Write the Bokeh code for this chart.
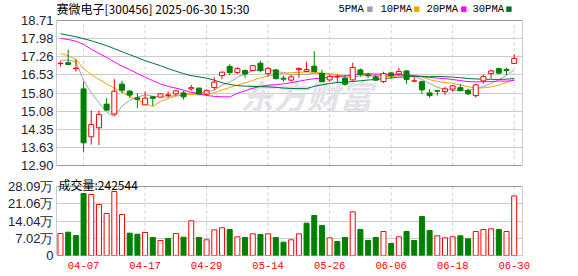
from bokeh.plotting import figure
from bokeh.layouts import column
from bokeh.models import (Range1d, FixedTicker, NumeralTickFormatter,
                          CustomJSTickFormatter, Label, ColumnDataSource)
from bokeh.embed import file_html
from bokeh.resources import INLINE

# ---------------- data ----------------
dates = ["04-01", "04-02", "04-03", "04-07", "04-08", "04-09", "04-10", "04-11",
         "04-14", "04-15", "04-16", "04-17", "04-18", "04-21", "04-22", "04-23",
         "04-24", "04-25", "04-28", "04-29", "04-30", "05-06", "05-07", "05-08",
         "05-09", "05-12", "05-13", "05-14", "05-15", "05-16", "05-19", "05-20",
         "05-21", "05-22", "05-23", "05-26", "05-27", "05-28", "05-29", "05-30",
         "06-03", "06-04", "06-05", "06-06", "06-09", "06-10", "06-11", "06-12",
         "06-13", "06-16", "06-17", "06-18", "06-19", "06-20", "06-23", "06-24",
         "06-25", "06-26", "06-27", "06-30"]

opens = [16.98, 17.02, 16.78, 15.97, 14.05, 14.41, 15.36, 14.96, 16.16, 15.88,
         15.61, 15.33, 15.65, 15.64, 15.71, 15.77, 15.81, 15.97, 16.00, 15.76,
         16.02, 16.50, 16.87, 16.63, 16.71, 16.71, 17.00, 16.58, 16.73, 16.40,
         16.32, 16.74, 16.67, 16.88, 16.59, 16.33, 16.45, 16.39, 16.33, 16.73,
         16.53, 16.45, 16.26, 16.61, 16.57, 16.69, 16.28, 16.26, 15.81, 15.90,
         15.86, 15.96, 16.02, 15.90, 15.70, 16.29, 16.58, 16.78, 16.75, 16.99]
highs = [17.08, 17.55, 17.16, 16.26, 15.10, 15.10, 15.60, 16.36, 16.29, 15.93,
         15.80, 15.86, 15.67, 15.80, 15.86, 15.93, 15.89, 16.13, 16.02, 15.96,
         16.44, 16.66, 16.96, 16.84, 16.74, 16.92, 17.10, 16.84, 16.76, 16.50,
         16.53, 16.83, 17.06, 17.48, 16.73, 16.55, 16.55, 16.53, 17.02, 16.79,
         16.62, 16.53, 16.66, 16.64, 16.81, 16.73, 16.45, 16.30, 15.96, 15.93,
         16.06, 16.12, 16.16, 15.98, 16.18, 16.53, 16.73, 16.82, 16.82, 17.36]
lows = [16.86, 16.94, 16.66, 13.45, 13.74, 13.72, 15.10, 14.91, 15.80, 15.60,
        15.20, 15.32, 15.29, 15.63, 15.62, 15.70, 15.54, 15.89, 15.73, 15.70,
        15.93, 16.36, 16.53, 16.57, 16.42, 16.68, 16.63, 16.46, 16.35, 16.26,
        16.26, 16.42, 16.66, 16.64, 16.25, 16.26, 16.24, 16.09, 16.30, 16.46,
        16.39, 16.30, 16.20, 16.39, 16.50, 16.16, 16.27, 15.77, 15.62, 15.70,
        15.73, 15.86, 15.86, 15.72, 15.62, 16.18, 16.39, 16.57, 16.53, 16.98]
closes = [17.00, 16.95, 16.80, 13.81, 14.54, 14.94, 15.12, 15.88, 15.92, 15.72,
          15.55, 15.60, 15.59, 15.77, 15.73, 15.89, 15.65, 16.02, 15.77, 15.90,
          16.24, 16.64, 16.62, 16.78, 16.57, 16.90, 16.70, 16.79, 16.38, 16.36,
          16.45, 16.79, 16.74, 16.66, 16.26, 16.47, 16.46, 16.16, 16.83, 16.55,
          16.50, 16.32, 16.58, 16.50, 16.67, 16.35, 16.29, 15.93, 15.70, 15.88,
          15.97, 16.09, 15.90, 15.77, 16.13, 16.46, 16.69, 16.60, 16.70, 17.19]
# volume in 万 shares
volumes = [8.95, 9.49, 8.14, 25.24, 24.83, 20.76, 17.10, 26.05, 16.69, 9.08,
           8.67, 9.36, 7.33, 6.11, 6.92, 8.95, 7.46, 14.11, 7.33, 6.39,
           10.45, 11.27, 10.58, 7.60, 7.33, 8.82, 8.55, 8.82, 7.33, 5.43,
           6.39, 8.82, 13.16, 16.28, 12.21, 7.19, 5.70, 7.33, 17.78, 10.58,
           6.11, 7.33, 9.77, 4.89, 7.60, 9.77, 6.11, 15.88, 10.18, 8.01,
           7.19, 7.60, 8.01, 6.79, 9.77, 10.58, 10.85, 10.58, 9.77, 24.2544]

# moving-average values before a full window exists
ma5_head = [17.12, 17.12, 17.07, 16.30]
ma10_head = [17.39, 17.30, 17.15, 16.78, 16.55, 16.35, 16.17, 16.00, 15.85]
ma20_head = [17.99, 17.95, 17.88, 17.75, 17.56, 17.39, 17.23, 17.05, 16.88, 16.74,
             16.59, 16.44, 16.30, 16.17, 16.07, 16.00, 15.92, 15.83, 15.76]
ma30_head = [18.18, 18.12, 18.06, 17.98, 17.90, 17.80, 17.70, 17.58, 17.46, 17.34,
             17.22, 17.10, 17.00, 16.90, 16.78, 16.68, 16.58, 16.50, 16.45, 16.40,
             16.32, 16.22, 16.15, 16.10, 16.08, 16.07, 16.06, 16.05, 16.03]

price_ticks = [12.90, 13.63, 14.35, 15.08, 15.80, 16.53, 17.26, 17.98, 18.71]
vol_ticks = [0, 7.02, 14.04, 21.06, 28.09]
tick_dates = ["04-07", "04-17", "04-29", "05-14", "05-26", "06-06", "06-18", "06-30"]

title_text = "赛微电子[300456] 2025-06-30 15:30"
ma_names = ["5PMA", "10PMA", "20PMA", "30PMA"]
vol_title = "成交量:242544"

# ---------------- derived ----------------
N = len(closes)
idx = list(range(N))


def moving_avg(n, head):
    out = list(head)
    for i in range(len(head), N):
        out.append(sum(closes[i - n + 1:i + 1]) / n)
    return out


mas = [moving_avg(5, ma5_head), moving_avg(10, ma10_head),
       moving_avg(20, ma20_head), moving_avg(30, ma30_head)]
ma_colors = ["#a0a0a0", "#f2a400", "#ff00ff", "#00703c"]

RED = "#ff0000"
GREEN = "#008000"
FRAME = "#999999"
GRID = "#cccccc"

up = [c >= o for o, c in zip(opens, closes)]
vol_up = [closes[i] > closes[i - 1] if i > 0 else up[i] for i in idx]
tick_idx = [dates.index(d) for d in tick_dates]

X0, X1 = -0.52, 60.08
x_range = Range1d(X0, X1)

# ---- layout (pixels) ----
W = 578
H1 = 173                 # price canvas height
P_TOP, P_BOT = 20, 165   # price box, canvas pixels
H2 = 276 - H1            # volume canvas height
V_TOP, V_BOT = 186 - H1, 255 - H1   # volume box, pixels within volume canvas
V_BORDER_BOTTOM = H2 - V_BOT

p_lo, p_hi = price_ticks[0], price_ticks[-1]
ppu = (P_BOT - P_TOP) / (p_hi - p_lo)
y1_range = Range1d(p_lo - (H1 - P_BOT) / ppu, p_hi + P_TOP / ppu)

v_lo, v_hi = vol_ticks[0], vol_ticks[-1]
vpu = (V_BOT - V_TOP) / (v_hi - v_lo)
y2_range = Range1d(v_lo, v_hi + V_TOP / vpu)


def style_axis(ax):
    ax.axis_line_color = None
    ax.major_tick_line_color = None
    ax.minor_tick_line_color = None
    ax.major_tick_out = 0
    ax.major_tick_in = 0


# ---------------- price panel ----------------
p1 = figure(width=W, height=H1, x_range=x_range, y_range=y1_range,
            output_backend="svg", toolbar_location=None, x_axis_location=None,
            min_border_left=56, min_border_right=56, min_border_top=0,
            min_border_bottom=0, outline_line_color=None,
            background_fill_color="white", border_fill_color="white")

p1.yaxis.ticker = FixedTicker(ticks=price_ticks)
p1.yaxis.formatter = NumeralTickFormatter(format="0.00")
style_axis(p1.yaxis[0])
p1.yaxis.major_label_standoff = 3
p1.yaxis.major_label_text_font = "Liberation Sans"
p1.yaxis.major_label_text_font_size = "13px"
p1.yaxis.major_label_text_color = "#222233"

p1.ygrid.ticker = FixedTicker(ticks=price_ticks[1:-1])
p1.ygrid.grid_line_color = GRID
p1.xgrid.visible = False

# watermark
p1.add_layout(Label(x=184, y=H1 - 94, x_units="screen", y_units="screen",
                    text="东方财富", text_font="Noto Sans CJK SC",
                    text_font_size="33px", text_font_style="bold italic",
                    text_color="#e2e2e8", text_baseline="middle", level="underlay"))

p1.segment(x0=tick_idx, y0=[p_lo] * len(tick_idx), x1=tick_idx, y1=[p_hi] * len(tick_idx),
           line_color=GRID, line_dash="3 3", line_width=1)
p1.quad(left=[X0], right=[X1], bottom=[p_lo], top=[p_hi], fill_color=None,
        line_color=FRAME, line_width=1)

for ma, col in zip(mas, ma_colors):
    p1.line(idx, ma, line_color=col, line_width=1)

src_up = ColumnDataSource(dict(
    x=[i for i in idx if up[i]],
    top=[closes[i] for i in idx if up[i]],
    bottom=[opens[i] for i in idx if up[i]],
    hi=[highs[i] for i in idx if up[i]],
    lo=[lows[i] for i in idx if up[i]]))
src_dn = ColumnDataSource(dict(
    x=[i for i in idx if not up[i]],
    top=[opens[i] for i in idx if not up[i]],
    bottom=[closes[i] for i in idx if not up[i]],
    hi=[highs[i] for i in idx if not up[i]],
    lo=[lows[i] for i in idx if not up[i]]))

p1.segment(x0="x", y0="lo", x1="x", y1="hi", source=src_up, line_color=RED, line_width=1)
p1.segment(x0="x", y0="lo", x1="x", y1="hi", source=src_dn, line_color=GREEN, line_width=1)
p1.vbar(x="x", top="top", bottom="bottom", width=0.65, source=src_up,
        fill_color="white", line_color=RED, line_width=1)
p1.vbar(x="x", top="top", bottom="bottom", width=0.65, source=src_dn,
        fill_color=GREEN, line_color=GREEN, line_width=1)

# title + legend (frame-relative screen coordinates, frame = whole canvas height)
p1.add_layout(Label(x=0, y=H1 - 8, x_units="screen", y_units="screen", text=title_text,
                    text_font="Noto Sans CJK SC", text_font_size="12px",
                    text_baseline="middle", text_color="#000000"))
legend_x = [282, 324, 370, 416]
square_x = [310, 357, 404, 449]
for name, lx, sx, col in zip(ma_names, legend_x, square_x, ma_colors):
    p1.add_layout(Label(x=lx, y=H1 - 8.5, x_units="screen", y_units="screen", text=name,
                        text_font="Liberation Mono", text_font_size="10.5px",
                        text_baseline="middle", text_color="#000000"))
    p1.add_layout(Label(x=sx, y=H1 - 8.5, x_units="screen", y_units="screen", text="■",
                        text_font="DejaVu Sans", text_font_size="7px",
                        text_baseline="middle", text_color=col))

# ---------------- volume panel ----------------
p2 = figure(width=W, height=H2, x_range=x_range, y_range=y2_range,
            output_backend="svg", toolbar_location=None,
            min_border_left=56, min_border_right=56, min_border_top=0,
            min_border_bottom=V_BORDER_BOTTOM, outline_line_color=None,
            background_fill_color="white", border_fill_color="white")

p2.yaxis.ticker = FixedTicker(ticks=vol_ticks)
p2.yaxis.formatter = CustomJSTickFormatter(
    code="return tick == 0 ? '0' : tick.toFixed(2) + '万';")
p2.xaxis.ticker = FixedTicker(ticks=tick_idx)
p2.xaxis.major_label_overrides = {i: dates[i] for i in tick_idx}
style_axis(p2.yaxis[0])
style_axis(p2.xaxis[0])
p2.yaxis.major_label_standoff = 3
p2.yaxis.major_label_text_font = "Liberation Sans"
p2.yaxis.major_label_text_font_size = "13px"
p2.yaxis.major_label_text_color = "#222233"
p2.xaxis.major_label_standoff = 6
p2.xaxis.major_label_text_font = "Liberation Mono"
p2.xaxis.major_label_text_font_size = "10.5px"
p2.xaxis.major_label_text_color = RED

p2.ygrid.ticker = FixedTicker(ticks=vol_ticks[1:-1])
p2.ygrid.grid_line_color = GRID
p2.xgrid.visible = False

p2.segment(x0=tick_idx, y0=[v_lo] * len(tick_idx), x1=tick_idx, y1=[v_hi] * len(tick_idx),
           line_color=GRID, line_dash="3 3", line_width=1)
p2.quad(left=[X0], right=[X1], bottom=[v_lo], top=[v_hi], fill_color=None,
        line_color=FRAME, line_width=1)

vsrc_up = ColumnDataSource(dict(x=[i for i in idx if vol_up[i]],
                                top=[volumes[i] for i in idx if vol_up[i]]))
vsrc_dn = ColumnDataSource(dict(x=[i for i in idx if not vol_up[i]],
                                top=[volumes[i] for i in idx if not vol_up[i]]))
p2.vbar(x="x", top="top", bottom=0, width=0.65, source=vsrc_up,
        fill_color="white", line_color=RED, line_width=1)
p2.vbar(x="x", top="top", bottom=0, width=0.65, source=vsrc_dn,
        fill_color=GREEN, line_color=GREEN, line_width=1)

p2.add_layout(Label(x=2, y=V_BOT - (184 - H1), x_units="screen", y_units="screen",
                    text=vol_title, text_font="Noto Sans CJK SC", text_font_size="12px",
                    text_baseline="alphabetic", text_color="#000000"))

layout = column(p1, p2, spacing=0)
open("out.html", "w").write(file_html(layout, INLINE))
